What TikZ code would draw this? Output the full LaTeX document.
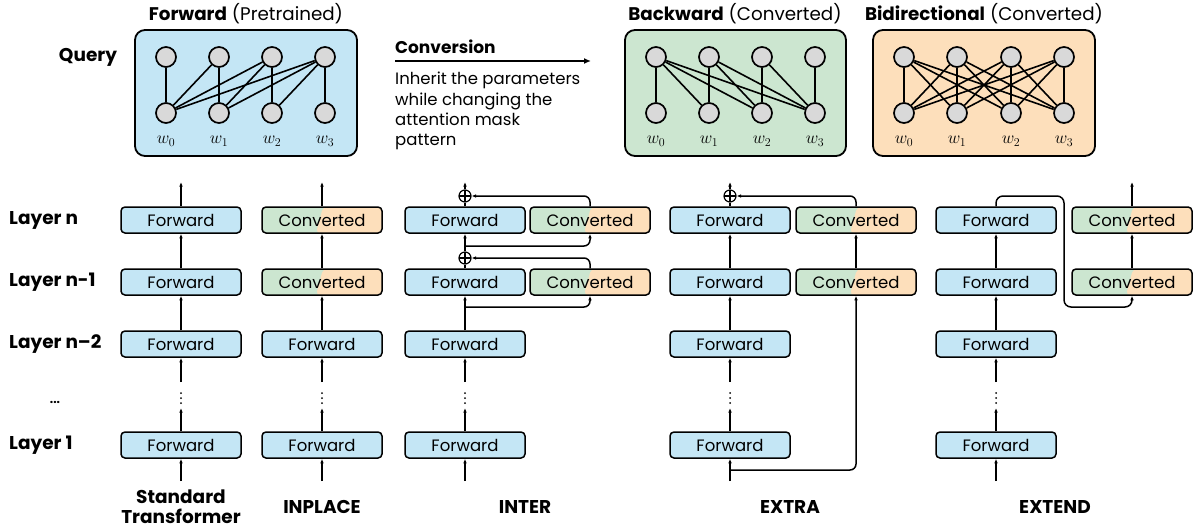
\documentclass[tikz,border=0pt]{standalone}
\usepackage{fontspec}
\setmainfont{Poppins}
\usetikzlibrary{arrows.meta,calc}
\definecolor{fwblue}{HTML}{C4E6F5}
\definecolor{bwgreen}{HTML}{CCE6D0}
\definecolor{biorange}{HTML}{FDDFBB}
\definecolor{nodegray}{HTML}{D9D9D9}
\tikzset{
  fwbox/.style={draw, line width=1.5pt, rounded corners=4pt, fill=fwblue, minimum width=120pt, minimum height=26pt, inner sep=0pt, font=\fontsize{16.5}{19}\selectfont},
  cvbox/.style={fwbox, fill=none, path picture={
    \fill[bwgreen] (path picture bounding box.south west) rectangle (path picture bounding box.north east);
    \fill[biorange] ([xshift=-6pt]path picture bounding box.south) -- ([xshift=1pt]path picture bounding box.north) -- (path picture bounding box.north east) -- (path picture bounding box.south east) -- cycle;}},
  arr/.style={-{Latex[length=4.5pt,width=3.6pt]}, line width=1.5pt},
  ln/.style={line width=1.5pt},
  opl/.style={circle, draw, line width=1.2pt, minimum size=12pt, inner sep=0pt, fill=white, path picture={
    \draw[line width=1.1pt] (path picture bounding box.north) -- (path picture bounding box.south) (path picture bounding box.west) -- (path picture bounding box.east);}},
  attbox/.style={draw, line width=1.8pt, rounded corners=10pt},
  tok/.style={circle, draw, line width=1.7pt, fill=nodegray, minimum size=20pt, inner sep=0pt},
  edge/.style={line width=1.6pt},
  lbl/.style={font=\fontsize{18.5}{21}\selectfont\bfseries, inner sep=0pt},
  ttl/.style={font=\fontsize{18.3}{21}\selectfont, inner sep=0pt},
  wlbl/.style={font=\fontsize{18}{21}\selectfont, inner sep=0pt},
  dot/.style={fill, circle, inner sep=0pt, minimum size=2pt}
}
\begin{document}
\begin{tikzpicture}[x=1pt,y=-1pt]
\useasboundingbox (0,0) rectangle (1198,531);

% ---------- top attention boxes ----------
\node[lbl] (query) at (88,57) {Query};
\draw[attbox, fill=fwblue] (135,30) rectangle (357,156);
\draw[attbox, fill=bwgreen] (625,30) rectangle (846,156);
\draw[attbox, fill=biorange] (873,30) rectangle (1095,156);
\node[ttl] (tf) at (246,14) {\textbf{Forward} (Pretrained)};
\node[ttl] (tb) at (735,14) {\textbf{Backward} (Converted)};
\node[ttl] (tbi) at (984,14) {\textbf{Bidirectional} (Converted)};

\foreach \p/\a/\b/\c/\d in {f/166/219/272/325, b/656/709/762/815, x/904/957/1011/1064}{
  \foreach \i/\xx in {0/\a,1/\b,2/\c,3/\d}{
    \node[tok] (\p-t\i) at (\xx,57) {};
    \node[tok] (\p-b\i) at (\xx,113) {};
    \node[wlbl] (\p-w\i) at (\xx,141) {$w_{\i}$};
  }
}
\foreach \i in {0,...,3}{
  \foreach \j in {0,...,\i}{ \draw[edge] (f-t\i) -- (f-b\j); }
  \foreach \j in {\i,...,3}{ \draw[edge] (b-t\i) -- (b-b\j); }
  \foreach \j in {0,...,3}{ \draw[edge] (x-t\i) -- (x-b\j); }
}

% conversion
\node[font=\fontsize{17}{20}\selectfont\bfseries, anchor=west, inner sep=0pt] (conv) at (395,47) {Conversion};
\coordinate (cva) at (395,61);
\coordinate (cvb) at (591,61);
\draw[-{Latex[length=7pt,width=6pt]}, line width=1.5pt] (cva) -- (cvb);
\node[font=\fontsize{16.5}{20.3}\selectfont, anchor=north west, align=left, inner sep=0pt] (convtxt) at (395,72) {Inherit the parameters\\while changing the\\attention mask\\pattern};

% ---------- layer labels ----------
\node[lbl, anchor=west] (ln) at (9,220) {Layer n};
\node[lbl, anchor=west] (ln1) at (9,282) {Layer n-1};
\node[lbl, anchor=west] (ln2) at (9,344) {Layer n–2};
\node[font=\fontsize{12}{14}\selectfont\bfseries] (ldots) at (55,402) {...};
\node[lbl, anchor=west] (l1) at (9,445) {Layer 1};

% ---------- common lower part ----------
\foreach \x/\c in {181/a,322/b,465/c,730/d,996/e}{
  \node[fwbox] (\c1) at (\x,445) {Forward};
  \node[fwbox] (\c2) at (\x,344) {Forward};
  \coordinate (\c-in) at (\x,481);
  \coordinate (\c-d1) at (\x,408);
  \coordinate (\c-d2) at (\x,382);
  \draw[arr] (\c-in) -- (\c1.south);
  \draw[arr] (\c1.north) -- (\c-d1);
  \draw[arr] (\c-d2) -- (\c2.south);
  \node[dot] (\c-da) at (\x,393) {};
  \node[dot] (\c-db) at (\x,398) {};
  \node[dot] (\c-dc) at (\x,403) {};
}

% Standard
\node[fwbox] (a3) at (181,282) {Forward};
\node[fwbox] (a4) at (181,220) {Forward};
\coordinate (a-out) at (181,182);
\draw[arr] (a2.north) -- (a3.south);
\draw[arr] (a3.north) -- (a4.south);
\draw[arr] (a4.north) -- (a-out);

% INPLACE
\node[cvbox] (b3) at (322,282) {Converted};
\node[cvbox] (b4) at (322,220) {Converted};
\coordinate (b-out) at (322,182);
\draw[arr] (b2.north) -- (b3.south);
\draw[arr] (b3.north) -- (b4.south);
\draw[arr] (b4.north) -- (b-out);

% INTER
\node[fwbox] (c3) at (465,282) {Forward};
\node[fwbox] (c4) at (465,220) {Forward};
\node[cvbox] (cc3) at (590,282) {Converted};
\node[cvbox] (cc4) at (590,220) {Converted};
\node[opl] (p1) at (465,258) {};
\node[opl] (p2) at (465,196) {};
\coordinate (c-br1) at (465,307);
\coordinate (c-br2) at (465,246);
\coordinate (c-out) at (465,182);
\draw[arr] (c2.north) -- (c3.south);
\draw[arr, rounded corners=6pt] (c-br1) -| (cc3.south);
\draw[arr, rounded corners=6pt] (cc3.north) |- (p1.east);
\draw[ln] (c3.north) -- (p1.south);
\draw[arr] (p1.north) -- (c4.south);
\draw[arr, rounded corners=6pt] (c-br2) -| (cc4.south);
\draw[arr, rounded corners=6pt] (cc4.north) |- (p2.east);
\draw[ln] (c4.north) -- (p2.south);
\draw[arr] (p2.north) -- (c-out);

% EXTRA
\node[fwbox] (d3) at (730,282) {Forward};
\node[fwbox] (d4) at (730,220) {Forward};
\node[cvbox] (dc3) at (856,282) {Converted};
\node[cvbox] (dc4) at (856,220) {Converted};
\node[opl] (p3) at (730,196) {};
\coordinate (d-br) at (730,470);
\coordinate (d-out) at (730,182);
\draw[arr] (d2.north) -- (d3.south);
\draw[arr] (d3.north) -- (d4.south);
\draw[ln] (d4.north) -- (p3.south);
\draw[arr] (p3.north) -- (d-out);
\draw[arr] (dc3.north) -- (dc4.south);
\draw[arr, rounded corners=6pt] (dc4.north) |- (p3.east);
\draw[arr, rounded corners=6pt] (d-br) -| (dc3.south);

% EXTEND
\node[fwbox] (e3) at (996,282) {Forward};
\node[fwbox] (e4) at (996,220) {Forward};
\node[cvbox] (ec3) at (1132,282) {Converted};
\node[cvbox] (ec4) at (1132,220) {Converted};
\coordinate (e-k1) at (996,196);
\coordinate (e-k2) at (1064,196);
\coordinate (e-k3) at (1064,307);
\coordinate (e-out) at (1132,182);
\draw[arr] (e2.north) -- (e3.south);
\draw[arr] (e3.north) -- (e4.south);
\draw[arr, rounded corners=7pt] (e4.north) -- (e-k1) -- (e-k2) -- (e-k3) -| (ec3.south);
\draw[arr] (ec3.north) -- (ec4.south);
\draw[arr] (ec4.north) -- (e-out);

% ---------- bottom labels ----------
\node[lbl, align=center, font=\fontsize{18.5}{20}\selectfont\bfseries] (std) at (181,507) {Standard\\Transformer};
\node[lbl] (inp) at (322,507) {INPLACE};
\node[lbl] (int) at (525,507) {INTER};
\node[lbl] (ext) at (790,507) {EXTRA};
\node[lbl] (exd) at (1055,507) {EXTEND};
\end{tikzpicture}
\end{document}
